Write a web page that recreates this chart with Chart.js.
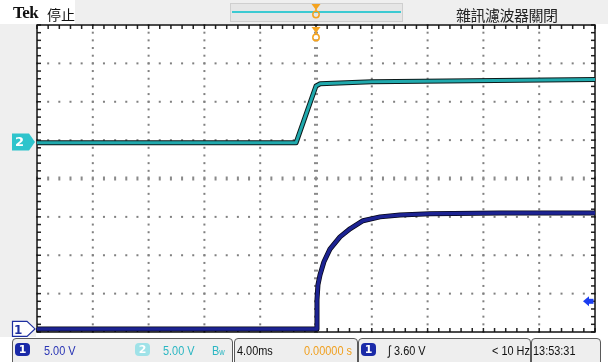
<!DOCTYPE html>
<html>
<head>
<meta charset="utf-8">
<script src="https://cdn.jsdelivr.net/npm/chart.js@4"></script>
<style>
  html, body { margin: 0; padding: 0; background: #fff; }
  #wrap { position: relative; width: 608px; height: 362px; overflow: hidden; }
  #wrap canvas { position: absolute; left: 0; top: 0; }
  .t { position: absolute; white-space: nowrap; line-height: 1; }
  .nar { font-family: "Liberation Sans", Arial, sans-serif; font-size: 13px; transform: scaleX(0.84); transform-origin: 0 0; }
  .box { position: absolute; top: 338px; height: 30px; background: #eeeeee; border: 1px solid #5a5a5a; border-radius: 4px; box-sizing: border-box; }
  .badge { position: absolute; top: 343px; width: 15px; height: 13px; border-radius: 4px; color: #fff; font: bold 11px "DejaVu Sans", sans-serif; text-align: center; line-height: 13px; }
</style>
</head>
<body>
<div id="wrap">
  <canvas id="scope" width="608" height="362"></canvas>

  <div class="t" style="left:13px;top:3px;font:bold 17px 'Liberation Serif',serif;color:#111;letter-spacing:-0.5px;">Tek</div>
  <div class="t" style="left:47px;top:4px;font:14px 'Noto Sans CJK TC',sans-serif;color:#111;">停止</div>
  <div class="t" style="left:456px;top:4px;font:15px 'Noto Sans CJK TC',sans-serif;color:#222;letter-spacing:-0.5px;">雜訊濾波器關閉</div>

  <div class="t" style="left:15px;top:134px;font:bold 13px 'DejaVu Sans',sans-serif;color:#fff;">2</div>
  <div class="t" style="left:14px;top:323px;font:bold 12px 'DejaVu Sans',sans-serif;color:#1e2fa0;">1</div>

  <div class="box" style="left:12px;width:221px;"></div>
  <div class="box" style="left:234px;width:124px;"></div>
  <div class="box" style="left:358px;width:173px;"></div>
  <div class="box" style="left:531px;width:70px;"></div>

  <div class="badge" style="left:15px;background:#1a2aa8;">1</div>
  <div class="t nar" style="left:44px;top:344px;color:#2a35b5;">5.00 V</div>
  <div class="badge" style="left:135px;background:#9fe2e8;">2</div>
  <div class="t nar" style="left:163px;top:344px;color:#2ab6c2;">5.00 V</div>
  <div class="t nar" style="left:212px;top:344px;color:#2ab6c2;">B<span style="font-size:9px;">w</span></div>

  <div class="t nar" style="left:237px;top:344px;color:#111;">4.00ms</div>
  <div class="t nar" style="left:304px;top:344px;color:#f0a020;">0.00000 s</div>

  <div class="badge" style="left:361px;background:#1a2aa8;">1</div>
  <div class="t nar" style="left:388px;top:344px;color:#111;">∫ 3.60 V</div>
  <div class="t nar" style="left:492px;top:344px;color:#111;">&lt; 10 Hz</div>

  <div class="t nar" style="left:533px;top:344px;color:#111;">13:53:31</div>
</div>

<script>
// time in ms, values in volts
const ch1Time  = [-20, 0, 0.07, 0.14, 0.29, 0.57, 1.0, 1.72, 2.44, 3.37, 4.59, 6.02, 8.17, 13.2, 20];
const ch1Volts = [0, 0, 3.8, 5.75, 7.05, 8.75, 10.4, 12.0, 13.05, 14.1, 14.6, 14.85, 15.0, 15.1, 15.1];

const ch2Time  = [-20, -1.43, 0, 0.3, 4, 20];
const ch2Volts = [-0.1, -0.1, 7.3, 7.6, 7.85, 8.15];

// scope settings
const voltsPerDiv = 5;
const ch1Position = -3.92;   // divisions
const ch2Position = 0.95;
const triggerLevel = 3.6;    // volts, ch1

function toPoints(times, volts, pos) {
  return times.map((t, i) => ({ x: t, y: pos + volts[i] / voltsPerDiv }));
}

const ch1Data = toPoints(ch1Time, ch1Volts, ch1Position);
const ch2Data = toPoints(ch2Time, ch2Volts, ch2Position);

const graticule = {
  id: "graticule",
  beforeDraw(chart) {
    const c = chart.ctx;
    const a = chart.chartArea;
    // top bar and side strip
    c.fillStyle = "#efefef";
    c.fillRect(75, 0, 533, 24);
    c.fillRect(0, 24, 36, 313);
    c.fillStyle = "#fff";
    c.fillRect(a.left, a.top, a.right - a.left, a.bottom - a.top);
    // record view box
    c.fillStyle = "#e6e6e6";
    c.fillRect(230, 3, 173, 19);
    c.strokeStyle = "#cfcfcf";
    c.lineWidth = 1;
    c.strokeRect(230.5, 3.5, 172, 18);
    c.fillStyle = "#3ccad2";
    c.fillRect(232, 11, 169, 2);
  },
  beforeDatasetsDraw(chart) {
    const c = chart.ctx;
    const a = chart.chartArea;
    const xs = chart.scales.x, ys = chart.scales.y;
    c.save();
    // dotted grid
    c.fillStyle = "#808080";
    for (let t = -16; t <= 16; t += 4) {
      if (t === 0) continue;
      const px = xs.getPixelForValue(t);
      for (let d = -4; d <= 4.001; d += 0.2) {
        c.fillRect(px - 1, ys.getPixelForValue(d) - 1, 2, 2);
      }
    }
    for (let d = -3; d <= 3; d++) {
      if (d === 0) continue;
      const py = ys.getPixelForValue(d);
      for (let t = -20; t <= 20.001; t += 0.8) {
        c.fillRect(xs.getPixelForValue(t) - 1, py - 1, 2, 2);
      }
    }
    // centre axes ticks
    c.fillStyle = "#8a8a8a";
    const cx = xs.getPixelForValue(0), cy = ys.getPixelForValue(0);
    for (let d = -4; d <= 4.001; d += 0.2) {
      c.fillRect(cx - 2, ys.getPixelForValue(d) - 1, 4, 2);
    }
    for (let t = -20; t <= 20.001; t += 0.8) {
      c.fillRect(xs.getPixelForValue(t) - 1, cy - 2, 2, 4);
    }
    // frame ticks
    c.fillStyle = "#222";
    for (let t = -20; t <= 20.001; t += 0.8) {
      const px = xs.getPixelForValue(t);
      c.fillRect(px - 0.75, a.top, 1.5, 4);
      c.fillRect(px - 0.75, a.bottom - 4, 1.5, 4);
    }
    for (let d = -4; d <= 4.001; d += 0.2) {
      const py = ys.getPixelForValue(d);
      c.fillRect(a.left, py - 0.75, 4, 1.5);
      c.fillRect(a.right - 4, py - 0.75, 4, 1.5);
    }
    c.strokeStyle = "#111";
    c.lineWidth = 1.5;
    c.strokeRect(a.left, a.top, a.right - a.left, a.bottom - a.top);
    c.restore();
  },
  afterDraw(chart) {
    const c = chart.ctx;
    const xs = chart.scales.x, ys = chart.scales.y;
    c.save();
    // trigger position markers (orange)
    const tx = xs.getPixelForValue(0);
    [4, 27].forEach(y0 => {
      c.fillStyle = "#f5a31e";
      c.beginPath();
      c.moveTo(tx - 4.5, y0); c.lineTo(tx + 4.5, y0); c.lineTo(tx, y0 + 6);
      c.closePath(); c.fill();
      c.strokeStyle = "#f5a31e";
      c.lineWidth = 1.5;
      c.beginPath();
      c.arc(tx, y0 + 10.5, 3.2, 0, Math.PI * 2);
      c.stroke();
      c.beginPath();
      c.moveTo(tx, y0 + 5); c.lineTo(tx, y0 + 7.5); c.stroke();
    });
    // ch2 ground marker
    const y2 = ys.getPixelForValue(ch2Position);
    c.fillStyle = "#2ec4cc";
    c.beginPath();
    c.moveTo(12, y2 - 8.5); c.lineTo(29, y2 - 8.5); c.lineTo(35, y2);
    c.lineTo(29, y2 + 8.5); c.lineTo(12, y2 + 8.5); c.closePath(); c.fill();
    // ch1 ground marker
    const y1 = ys.getPixelForValue(ch1Position);
    c.fillStyle = "#fff";
    c.strokeStyle = "#1e2fa0";
    c.lineWidth = 1.2;
    c.beginPath();
    c.moveTo(12.5, y1 - 7.5); c.lineTo(27, y1 - 7.5); c.lineTo(35, y1);
    c.lineTo(27, y1 + 7.5); c.lineTo(12.5, y1 + 7.5); c.closePath();
    c.fill(); c.stroke();
    // trigger level arrow (right)
    const yt = ys.getPixelForValue(ch1Position + triggerLevel / voltsPerDiv);
    const rx = chart.chartArea.right;
    c.fillStyle = "#1b3df0";
    c.beginPath();
    c.moveTo(rx - 12, yt); c.lineTo(rx - 6, yt - 5); c.lineTo(rx - 6, yt + 5);
    c.closePath(); c.fill();
    c.fillRect(rx - 6.5, yt - 2.5, 5, 5);
    c.restore();
  }
};

new Chart(document.getElementById("scope"), {
  type: "line",
  data: {
    datasets: [
      { data: ch2Data, borderColor: "#20a9ad", borderWidth: 3, order: 1 },
      { data: ch1Data, borderColor: "#1c2392", borderWidth: 3.5, order: 1 },
      { data: ch2Data, borderColor: "#0d1a1a", borderWidth: 5, order: 2 },
      { data: ch1Data, borderColor: "#060616", borderWidth: 5, order: 2 }
    ]
  },
  options: {
    responsive: false,
    animation: false,
    events: [],
    layout: { padding: { left: 37, right: 13, top: 25, bottom: 30 } },
    elements: { point: { radius: 0 }, line: { tension: 0, borderJoinStyle: "round" } },
    scales: {
      x: { type: "linear", min: -20, max: 20, display: false },
      y: { type: "linear", min: -4, max: 4, display: false }
    },
    plugins: { legend: { display: false }, tooltip: { enabled: false } }
  },
  plugins: [graticule]
});
</script>
</body>
</html>
